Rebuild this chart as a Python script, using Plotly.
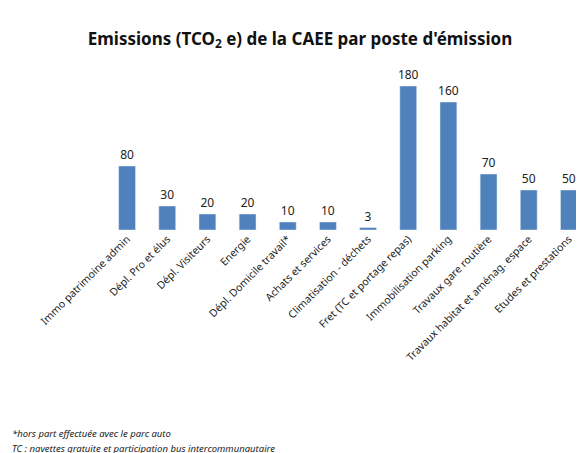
import plotly.graph_objects as go

categories = ["Immo patrimoine admin", "Dépl. Pro et élus", "Dépl. Visiteurs", "Energie",
              "Dépl. Domicile travail*", "Achats et services", "Climatisation - déchets",
              "Fret (TC et portage repas)", "Immobilisation parking", "Travaux gare routière",
              "Travaux habitat et aménag. espace", "Etudes et prestations"]
values = [80, 30, 20, 20, 10, 10, 3, 180, 160, 70, 50, 50]

fig = go.Figure(go.Bar(x=categories, y=values, marker_color="#4F81BD", width=0.42,
                       text=[str(v) for v in values], textposition="outside",
                       constraintext="none",
                       textfont=dict(size=12, color="#222"), cliponaxis=False))
fig.update_layout(
    width=584, height=453, plot_bgcolor="white", paper_bgcolor="white",
    margin=dict(l=99, r=3, t=62, b=231), showlegend=False,
    font=dict(family="Noto Sans", color="#222"),
    title=dict(text="<b>Emissions (TCO<sub>2</sub> e) de la CAEE par poste d'émission</b>",
               x=0.5, xref="container", xanchor="center", y=0.945, font=dict(size=17, color="#111")),
    xaxis=dict(tickangle=-45, tickfont=dict(size=10.5), showline=False, ticks="", automargin=False),
    yaxis=dict(visible=False, range=[0, 200], automargin=False),
)
fig.add_annotation(text="<i>*hors part effectuée avec le parc auto</i>", xref="paper", yref="paper",
                   x=-97/482, y=-(425-222)/160, xanchor="left", yanchor="middle", showarrow=False,
                   font=dict(size=9.5, color="#222"))
fig.add_annotation(text="<i>TC : navettes gratuite et participation bus intercommunautaire</i>", xref="paper", yref="paper",
                   x=-97/482, y=-(440-222)/160, xanchor="left", yanchor="middle", showarrow=False,
                   font=dict(size=9.5, color="#222"))
fig.write_html("out.html")
